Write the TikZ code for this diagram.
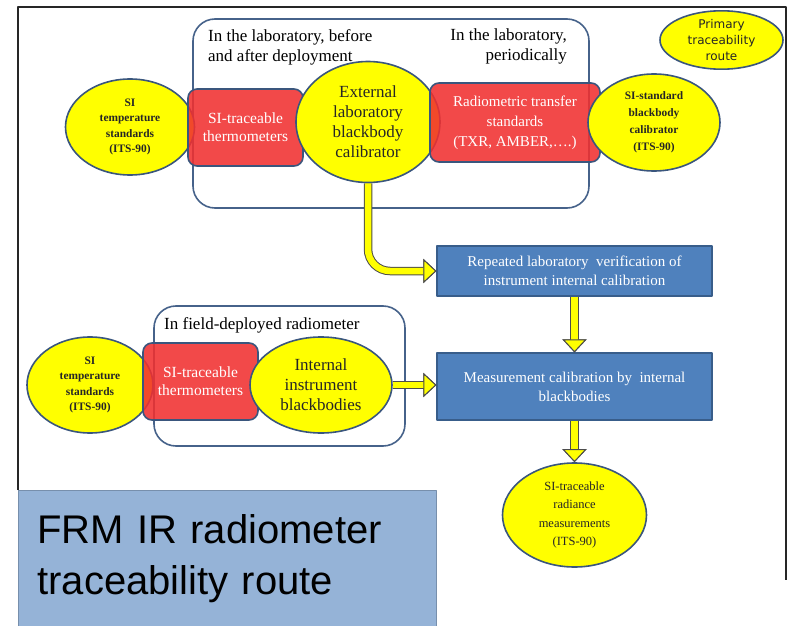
\documentclass[tikz,border=0pt]{standalone}
\usepackage{fontspec}
\setmainfont{Liberation Serif}
\newfontfamily\primfont{DejaVu Sans}
\newfontfamily\capfont{Liberation Sans}
\usepackage{xcolor}
\usetikzlibrary{shapes.geometric,arrows.meta}

\definecolor{ylw}{RGB}{255,255,0}
\definecolor{edgeblue}{RGB}{58,86,125}
\definecolor{redfill}{RGB}{240,48,48}
\definecolor{boxblue}{RGB}{79,129,189}
\definecolor{boxedge}{RGB}{56,93,138}
\definecolor{framecol}{RGB}{70,98,138}
\definecolor{capblue}{RGB}{149,179,215}

\begin{document}
\begin{tikzpicture}[x=1pt,y=-1pt,line join=round]
    \tikzstyle{frame}=[draw=framecol,line width=1.6,rounded corners=22,inner sep=0]
    \tikzstyle{label}=[inner sep=0,font=\fontsize{17}{20}\selectfont]
    \tikzstyle{yell}=[ellipse,draw=edgeblue,fill=ylw,line width=1.6,inner sep=0,text=black!85,align=center]
    \tikzstyle{small}=[yell,font=\fontsize{11.4}{15.5}\selectfont\bfseries]
    \tikzstyle{big}=[yell,font=\fontsize{17}{20}\selectfont]
    \tikzstyle{redbox}=[draw=edgeblue,fill=redfill,fill opacity=0.88,text opacity=1,line width=1.6,rounded corners=9,text=white,align=center,inner sep=0]
    \tikzstyle{bluebox}=[draw=boxedge,fill=boxblue,line width=1.2,text=white,align=center,inner sep=0,font=\fontsize{15}{19}\selectfont]
    \tikzstyle{yarrow}=[draw=ylw,line width=6.5,preaction={draw=black!70,line width=8.5},
        -{Triangle[width=24,length=13,color=black!70,fill=ylw,line width=1]}]

    \useasboundingbox (0,0) rectangle (788,626);
    \draw[black!85,line width=1.5] (18,490) -- (18,7) -- (786,7) -- (786,580);

    \node[frame,minimum width=396,minimum height=189] (labframe) at (391,113.5) {};
    \node[frame,minimum width=251,minimum height=140] (fieldframe) at (279.5,376) {};
    \node[label,anchor=north west,align=left] (beforeafter) at (208,29) {In the laboratory, before\\and after deployment};
    \node[label,anchor=north east,align=right] (periodic) at (567,29) {In the laboratory,\\periodically};
    \node[label,anchor=north west,align=left] (infield) at (164,317) {In field-deployed radiometer};

    \node[yell,minimum width=123,minimum height=56,font=\primfont\fontsize{12}{16}\selectfont] (primary) at (721.5,40) {Primary\\traceability\\route};

    \node[small,minimum width=129,minimum height=96] (sitop) at (130,127) {SI\\temperature\\standards\\(ITS-90)};
    \node[redbox,minimum width=115,minimum height=77,font=\fontsize{15.5}{18}\selectfont] (thermtop) at (245.5,127.5) {SI-traceable\\thermometers};
    \node[big,minimum width=144,minimum height=121] (ext) at (368,122) {External\\laboratory\\blackbody\\calibrator};
    \node[redbox,minimum width=170,minimum height=79,font=\fontsize{15}{20}\selectfont] (transfer) at (515,122.5) {Radiometric transfer\\standards\\(TXR, AMBER,\dots.)};
    \node[yell,minimum width=132,minimum height=97,font=\fontsize{11.4}{17}\selectfont\bfseries] (sistd) at (654,122.5) {SI-standard\\blackbody\\calibrator\\(ITS-90)};

    \node[small,minimum width=126,minimum height=96] (sibot) at (90,385) {SI\\temperature\\standards\\(ITS-90)};
    \node[redbox,minimum width=115,minimum height=77,font=\fontsize{15.5}{18}\selectfont] (thermbot) at (200.5,381.5) {SI-traceable\\thermometers};
    \node[big,minimum width=142,minimum height=96] (intbb) at (321,385) {Internal\\instrument\\blackbodies};

    \node[bluebox,minimum width=275,minimum height=50] (rep) at (574.5,271) {Repeated laboratory\ \ verification of\\instrument internal calibration};
    \node[bluebox,minimum width=275,minimum height=67] (meas) at (574.5,386.5) {Measurement calibration by\ \ internal\\blackbodies};
    \node[yell,minimum width=144,minimum height=104,font=\fontsize{12.5}{18.5}\selectfont] (rad) at (574.5,515) {SI-traceable\\radiance\\measurements\\(ITS-90)};

    \node[draw=capblue!80!black,line width=0.8,fill=capblue,anchor=north west,minimum width=418,minimum height=136,text width=380,inner xsep=19,align=left,font=\capfont\fontsize{40}{51}\selectfont] (caption) at (18,490) {FRM IR radiometer\\traceability route};

    \draw[yarrow,rounded corners=22] (ext.south) |- (rep.west);
    \draw[yarrow] (rep.south) -- (meas.north);
    \draw[yarrow] (intbb.east) -- (intbb.east -| meas.west);
    \draw[yarrow] (meas.south) -- (rad.north);
\end{tikzpicture}
\end{document}
